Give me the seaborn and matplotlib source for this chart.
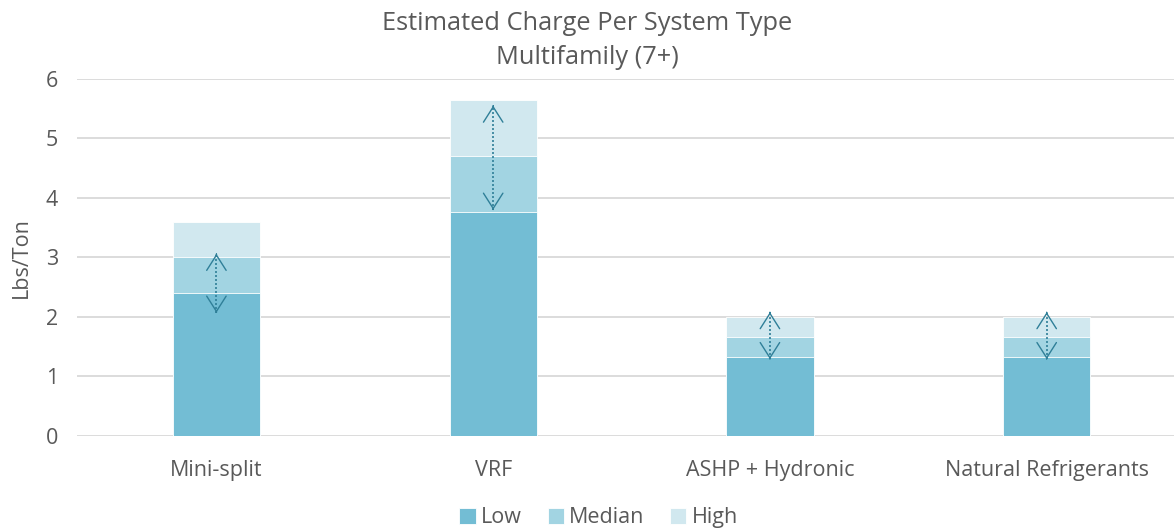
import pandas as pd
import matplotlib.pyplot as plt
import seaborn as sns

systems = ["Mini-split", "VRF", "ASHP + Hydronic", "Natural Refrigerants"]
# cumulative tops of each stacked segment
low = [2.40, 3.76, 1.33, 1.33]
median = [3.00, 4.70, 1.66, 1.66]
high = [3.60, 5.65, 2.00, 2.00]
# double-headed range arrows
arrow_lo = [2.07, 3.80, 1.29, 1.29]
arrow_hi = [3.06, 5.55, 2.08, 2.08]

colors = {"Low": "#73BDD4", "Median": "#A2D4E2", "High": "#D1E8EF"}
text_color = "#595959"
arrow_color = "#2F7F98"

sns.set_theme(style="white")
plt.rcParams['font.family'] = ['Open Sans', 'DejaVu Sans']

df = pd.DataFrame({"system": systems, "Low": low, "Median": median, "High": high})

fig = plt.figure(figsize=(11.74, 5.29), dpi=100)
ax = fig.add_axes([0.066, 0.176, 0.934, 0.675])

# draw from the tallest segment down so the stack overlaps correctly
for name in ["High", "Median", "Low"]:
    sns.barplot(data=df, x="system", y=name, color=colors[name], width=0.315,
                edgecolor="white", linewidth=0.6, saturation=1, ax=ax, label=name, zorder=2)

for i, (lo, hi) in enumerate(zip(arrow_lo, arrow_hi)):
    ax.plot([i, i], [lo, hi], linestyle=(0, (1.2, 1.2)), color=arrow_color, lw=1.2, zorder=3)
    for tip, tail in [(hi, hi - 0.01), (lo, lo + 0.01)]:
        ax.annotate("", xy=(i, tip), xytext=(i, tail),
                    arrowprops=dict(arrowstyle="->,head_length=11,head_width=7",
                                    mutation_scale=1, color=arrow_color, lw=1.0,
                                    shrinkA=0, shrinkB=0), zorder=4)

handles, labels = ax.get_legend_handles_labels()
if ax.get_legend() is not None:
    ax.get_legend().remove()

ax.set_ylim(0, 6)
ax.set_xlim(-0.502, 3.46)
ax.set_yticks(range(0, 7))
ax.yaxis.grid(True, color="#D9D9D9", lw=1.3, zorder=0)
ax.set_axisbelow(True)
sns.despine(ax=ax, left=True, bottom=True, top=True, right=True)
ax.tick_params(axis="both", length=0, labelsize=15.5, labelcolor=text_color)
ax.tick_params(axis="x", pad=17)
ax.tick_params(axis="y", pad=14)
ax.set_xlabel("")
ax.set_ylabel("Lbs/Ton", fontsize=15.5, color=text_color, labelpad=10)
fig.suptitle("Estimated Charge Per System Type\nMultifamily (7+)", y=0.98,
             fontsize=18.3, color=text_color, linespacing=1.5)

order = [labels.index(n) for n in ["Low", "Median", "High"]]
fig.legend([handles[k] for k in order], ["Low", "Median", "High"], loc="lower center",
           bbox_to_anchor=(0.51, -0.035), ncol=3, frameon=False, fontsize=15.5,
           labelcolor=text_color, handlelength=0.75, handleheight=0.75,
           handletextpad=0.25, columnspacing=1.2)

fig.savefig("out.png", dpi=100)
